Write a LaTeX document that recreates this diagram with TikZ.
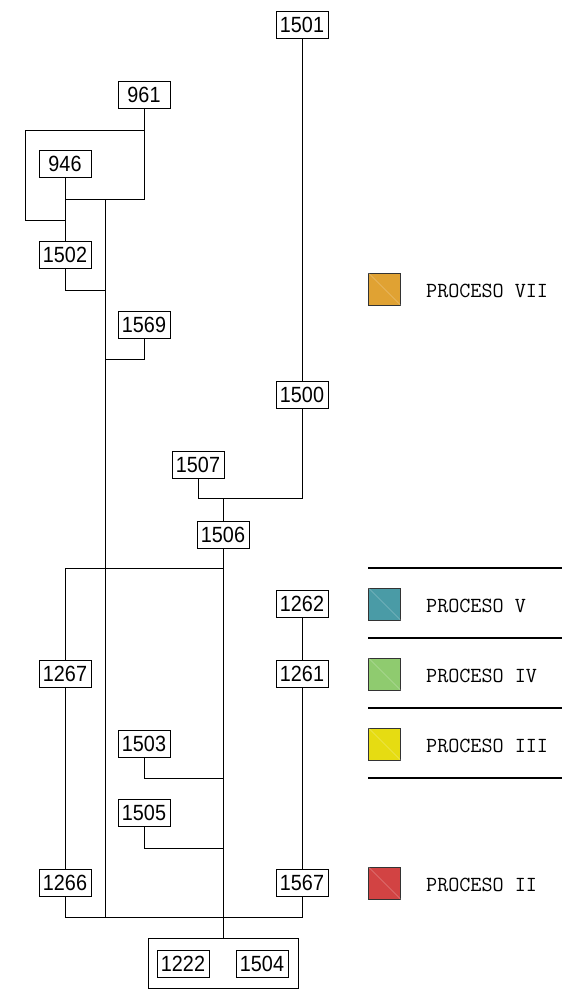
\documentclass[tikz,border=0pt]{standalone}
\usepackage{fontspec}
\newfontfamily\numfont[FakeStretch=0.9]{Liberation Sans}
\newfontfamily\legfont{Latin Modern Mono}
\definecolor{cVII}{HTML}{E0A233}
\definecolor{cV}{HTML}{4A9BA6}
\definecolor{cIV}{HTML}{8FCB6F}
\definecolor{cIII}{HTML}{E6DC12}
\definecolor{cII}{HTML}{D24343}
\definecolor{edge}{HTML}{333333}
\tikzset{
  num/.style={draw=black, line width=0.9pt, fill=white, minimum width=52pt, minimum height=27pt, inner sep=0pt, font=\numfont\fontsize{22}{22}\selectfont},
  conn/.style={line width=0.9pt, black},
  legsq/.style={draw=edge, line width=0.9pt, minimum size=32pt, inner sep=0pt},
  legtxt/.style={anchor=west, inner sep=0pt, font=\legfont\fontsize{21.5}{21.5}\selectfont},
  sep/.style={line width=1.1pt, black}
}
\begin{document}
\begin{tikzpicture}[x=1pt,y=-1pt]
\useasboundingbox (0,0) rectangle (572,989);
% nodes
\node[num] (n1501) at (302,25) {1501};
\node[num] (n961) at (144,95) {961};
\node[num] (n946) at (65,164) {946};
\node[num] (n1502) at (65,255) {1502};
\node[num] (n1569) at (144,325) {1569};
\node[num] (n1500) at (302,395) {1500};
\node[num] (n1507) at (198,465) {1507};
\node[num] (n1506) at (223,535) {1506};
\node[num] (n1262) at (302,604) {1262};
\node[num] (n1267) at (65,674) {1267};
\node[num] (n1261) at (302,674) {1261};
\node[num] (n1503) at (144,744) {1503};
\node[num] (n1505) at (144,813) {1505};
\node[num] (n1266) at (65,883) {1266};
\node[num] (n1567) at (302,883) {1567};
\node[draw=black, line width=0.9pt, minimum width=150pt, minimum height=50pt, inner sep=0pt] (outer) at (223,963) {};
\node[num] (n1222) at (183,964) {1222};
\node[num] (n1504) at (262,964) {1504};
% junction coordinates
\coordinate (j961a) at (144,130);
\coordinate (j961b) at (144,199);
\coordinate (j65a) at (65,199);
\coordinate (jl1) at (25,130);
\coordinate (jl2) at (25,220);
\coordinate (j65b) at (65,220);
\coordinate (spineTop) at (105,199);
\coordinate (spineBot) at (105,917);
\coordinate (j1502) at (105,290);
\coordinate (j1569) at (105,359);
\coordinate (j498) at (223,498);
\coordinate (j568r) at (223,568);
\coordinate (j568l) at (65,568);
\coordinate (jb1) at (65,917);
\coordinate (jb2) at (302,917);
\coordinate (j1503) at (223,778);
\coordinate (j1505) at (223,848);
% connectors
\draw[conn] (n961.south) -- (j961b) -- (j65a);
\draw[conn] (j961a) -- (jl1) -- (jl2) -- (j65b);
\draw[conn] (n946.south) -- (n1502.north);
\draw[conn] (spineTop) -- (spineBot);
\draw[conn] (n1502.south) |- (j1502);
\draw[conn] (n1569.south) |- (j1569);
\draw[conn] (n1501.south) -- (n1500.north);
\draw[conn] (n1500.south) |- (j498);
\draw[conn] (n1507.south) |- (j498);
\draw[conn] (j498) -- (n1506.north);
\draw[conn] (n1506.south) -- (outer.north);
\draw[conn] (j568l) -- (j568r);
\draw[conn] (j568l) -- (n1267.north);
\draw[conn] (n1267.south) -- (n1266.north);
\draw[conn] (n1266.south) -- (jb1) -- (jb2) -- (n1567.south);
\draw[conn] (n1262.south) -- (n1261.north);
\draw[conn] (n1261.south) -- (n1567.north);
\draw[conn] (n1503.south) |- (j1503);
\draw[conn] (n1505.south) |- (j1505);
% legend
\node[legsq, fill=cVII] (sVII) at (384.5,289) {};
\node[legsq, fill=cV] (sV) at (384.5,604) {};
\node[legsq, fill=cIV] (sIV) at (384.5,674) {};
\node[legsq, fill=cIII] (sIII) at (384.5,744) {};
\node[legsq, fill=cII] (sII) at (384.5,883) {};
\foreach \s in {sVII,sV,sIV,sIII,sII}{
  \draw[white, opacity=0.3, line width=0.6pt] (\s.north west) -- (\s.south east);
}
\node[legtxt] (tVII) at (426,291) {PROCESO VII};
\node[legtxt] (tV) at (426,606) {PROCESO V};
\node[legtxt] (tIV) at (426,676) {PROCESO IV};
\node[legtxt] (tIII) at (426,746) {PROCESO III};
\node[legtxt] (tII) at (426,885) {PROCESO II};
\coordinate (ls1) at (368,568); \coordinate (le1) at (562,568);
\coordinate (ls2) at (368,638); \coordinate (le2) at (562,638);
\coordinate (ls3) at (368,708); \coordinate (le3) at (562,708);
\coordinate (ls4) at (368,778); \coordinate (le4) at (562,778);
\draw[sep] (ls1) -- (le1);
\draw[sep] (ls2) -- (le2);
\draw[sep] (ls3) -- (le3);
\draw[sep] (ls4) -- (le4);
\end{tikzpicture}
\end{document}
